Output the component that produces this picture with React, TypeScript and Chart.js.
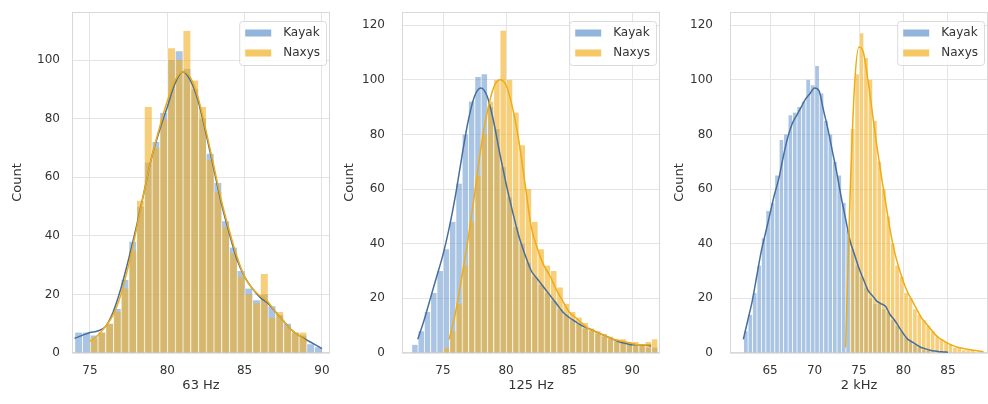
import React, { useEffect, useRef } from "react";
import { Chart, registerables } from "chart.js";

Chart.register(...registerables);

// ---------------------------------------------------------------------------
// Data
// ---------------------------------------------------------------------------
const seriesNames = ["Kayak", "Naxys"];
const yAxisTitle = "Count";

// 63 Hz — histogram bin centres (0.5 Hz bins) and counts
const bins63 = [
  74.25, 74.75, 75.25, 75.75, 76.25, 76.75, 77.25, 77.75, 78.25, 78.75, 79.25,
  79.75, 80.25, 80.75, 81.25, 81.75, 82.25, 82.75, 83.25, 83.75, 84.25, 84.75,
  85.25, 85.75, 86.25, 86.75, 87.25, 87.75, 88.25, 88.75, 89.25, 89.75,
];
const kayak63 = [
  7, 7, 6, 7, 10, 15, 25, 38, 50, 65, 72, 82, 100, 103, 97, 90, 80, 68, 58, 45,
  36, 28, 22, 18, 20, 16, 13, 10, 7, 6, 3, 2,
];
const naxys63 = [
  0, 0, 5, 7, 10, 14, 22, 35, 52, 84, 70, 80, 104, 100, 110, 93, 84, 66, 55, 43,
  34, 26, 20, 17, 27, 12, 14, 9, 7, 7, 0, 0,
];
// 63 Hz — density curves (scaled to counts)
const kdeX63 = [
  74, 74.5, 75, 75.5, 76, 76.5, 77, 77.5, 78, 78.5, 79, 79.5, 80, 80.5, 81,
  81.5, 82, 82.5, 83, 83.5, 84, 84.5, 85, 85.5, 86, 86.5, 87, 87.5, 88, 88.5,
  89, 89.5, 90,
];
const kayakKde63 = [
  5, 6, 7, 7.5, 9, 14, 22, 32, 43, 55, 67, 76, 84, 92, 96, 93, 86, 75, 63, 51,
  41, 32, 26, 22, 19, 17, 14, 11, 8, 6, 4.5, 3, 1.5,
];
const naxysKde63 = [
  null, null, 4, 6, 9, 13, 20, 30, 42, 55, 67, 77, 86, 93, 96, 94, 87, 76, 64,
  52, 42, 33, 26, 22, 19.5, 17.5, 14, 11, 8, 6, 4, null, null,
];

// 125 Hz
const bins125 = [
  72.75, 73.25, 73.75, 74.25, 74.75, 75.25, 75.75, 76.25, 76.75, 77.25, 77.75,
  78.25, 78.75, 79.25, 79.75, 80.25, 80.75, 81.25, 81.75, 82.25, 82.75, 83.25,
  83.75, 84.25, 84.75, 85.25, 85.75, 86.25, 86.75, 87.25, 87.75, 88.25, 88.75,
  89.25, 89.75, 90.25, 90.75, 91.25, 91.75,
];
const kayak125 = [
  3, 8, 15, 22, 30, 38, 48, 62, 80, 92, 101, 102, 90, 82, 68, 57, 46, 40, 33,
  28, 25, 22, 19, 16, 14, 12, 11, 9, 8, 7, 6, 5, 4, 4, 3, 3, 3, 2, 2,
];
const naxys125 = [
  0, 0, 0, 0, 0, 2, 8, 18, 32, 48, 65, 80, 92, 100, 118, 100, 88, 76, 60, 48,
  38, 32, 30, 24, 18, 15, 13, 11, 9, 8, 7, 6, 5, 5, 4, 4, 3, 4, 5,
];
const kdeX125 = [
  73, 73.5, 74, 74.5, 75, 75.5, 76, 76.5, 77, 77.5, 78, 78.5, 79, 79.5, 80,
  80.5, 81, 81.5, 82, 82.5, 83, 83.5, 84, 84.5, 85, 85.5, 86, 86.5, 87, 87.5,
  88, 88.5, 89, 89.5, 90, 90.5, 91, 91.5,
];
const kayakKde125 = [
  5, 12, 20, 28, 36, 46, 58, 72, 85, 94, 97, 94, 85, 73, 62, 52, 43, 36, 30,
  27, 24, 21, 18, 15, 13, 11.5, 10, 9, 8, 7, 6, 5, 4, 3.5, 3, 3, 3, 2.5,
];
const naxysKde125 = [
  null, null, null, null, null, 5, 15, 28, 42, 58, 75, 88, 97, 100, 98, 90, 78,
  62, 46, 38, 32, 28, 23, 19, 15, 13, 11, 9, 8, 7, 6, 5, 4.5, 4, 3.5, 3, 3, 3,
];

// 2 kHz
const bins2k = [
  62.25, 62.75, 63.25, 63.75, 64.25, 64.75, 65.25, 65.75, 66.25, 66.75, 67.25,
  67.75, 68.25, 68.75, 69.25, 69.75, 70.25, 70.75, 71.25, 71.75, 72.25, 72.75,
  73.25, 73.75, 74.25, 74.75, 75.25, 75.75, 76.25, 76.75, 77.25, 77.75, 78.25,
  78.75, 79.25, 79.75, 80.25, 80.75, 81.25, 81.75, 82.25, 82.75, 83.25, 83.75,
  84.25, 84.75, 85.25, 85.75, 86.25, 86.75, 87.25, 87.75, 88.25,
];
const kayak2k = [
  8, 14, 22, 32, 42, 52, 55, 65, 78, 80, 87, 88, 90, 92, 100, 98, 105, 95, 85,
  80, 70, 65, 55, 45, 38, 32, 28, 24, 20, 18, 18, 16, 15, 12, 10, 8, 6, 4, 3, 2,
  1, 1, 0, 0, 0, 0, 0, 0, 0, 0, 0, 0, 0,
];
const naxys2k = [
  0, 0, 0, 0, 0, 0, 0, 0, 0, 0, 0, 0, 0, 0, 0, 0, 0, 0, 0, 0, 0, 0, 0, 0, 82,
  102, 117, 108, 100, 85, 70, 60, 50, 40, 32, 28, 22, 20, 16, 14, 12, 10, 8, 6,
  5, 4, 3, 2, 2, 1, 1, 1, 0,
];
const kdeX2k = [
  62, 62.5, 63, 63.5, 64, 64.5, 65, 65.5, 66, 66.5, 67, 67.5, 68, 68.5, 69,
  69.5, 70, 70.5, 71, 71.5, 72, 72.5, 73, 73.5, 74, 74.5, 75, 75.5, 76, 76.5,
  77, 77.5, 78, 78.5, 79, 79.5, 80, 80.5, 81, 81.5, 82, 82.5, 83, 83.5, 84,
  84.5, 85, 85.5, 86, 86.5, 87, 87.5, 88, 88.5, 89,
];
const kayakKde2k = [
  5, 12, 19, 28, 37, 44, 51, 58, 64, 72, 79, 84, 87, 90, 93, 95, 97, 96, 89, 82,
  74, 66, 57, 49, 41, 36, 31, 27, 23, 21, 19, 18, 17, 14, 12, 9.5, 7, 5, 4, 3,
  2, 1.5, 1, 0.7, 0.5, 0.4, 0.3, null, null, null, null, null, null, null, null,
];
const naxysKde2k = [
  null, null, null, null, null, null, null, null, null, null, null, null, null,
  null, null, null, null, null, null, null, null, null, null, 2, 58, 98, 112,
  110, 100, 88, 76, 65, 55, 45, 37, 31, 26, 22, 19, 16, 13, 11, 9, 7, 5.5, 4.5,
  3.5, 2.8, 2.2, 1.8, 1.5, 1.2, 1, 0.7, 0.5,
];

const xTicks63 = [75, 80, 85, 90];
const xTicks125 = [75, 80, 85, 90];
const xTicks2k = [65, 70, 75, 80, 85];
const yTicks63 = [0, 20, 40, 60, 80, 100];
const yTicks125 = [0, 20, 40, 60, 80, 100, 120];
const yTicks2k = [0, 20, 40, 60, 80, 100, 120];

// ---------------------------------------------------------------------------
// Styling
// ---------------------------------------------------------------------------
const FONT = '"DejaVu Sans", "Liberation Sans", sans-serif';
const TEXT = "#333333";
const GRID = "#e4e4e4";
const FRAME = "#d8d8d8";
const kayakFill = "rgba(100,150,205,0.55)";
const naxysFill = "rgba(242,175,35,0.6)";
const kayakLine = "rgb(70,110,160)";
const naxysLine = "rgb(240,172,20)";

Chart.defaults.font.family = FONT;
Chart.defaults.color = TEXT;

type Panel = {
  title: string;
  left: number;
  width: number;
  padRight: number;
  yWidth: number;
  yTickPad: number;
  xMin: number;
  xMax: number;
  yMax: number;
  xTicks: number[];
  yTicks: number[];
  bins: number[];
  kayak: number[];
  naxys: number[];
  kdeX: number[];
  kayakKde: (number | null)[];
  naxysKde: (number | null)[];
};

const panels: Panel[] = [
  {
    title: "63 Hz",
    left: 0,
    width: 332,
    padRight: 2,
    yWidth: 62,
    yTickPad: 12,
    xMin: 73.84,
    xMax: 90.52,
    yMax: 116.4,
    xTicks: xTicks63,
    yTicks: yTicks63,
    bins: bins63,
    kayak: kayak63,
    naxys: naxys63,
    kdeX: kdeX63,
    kayakKde: kayakKde63,
    naxysKde: naxysKde63,
  },
  {
    title: "125 Hz",
    left: 332,
    width: 330,
    padRight: 2,
    yWidth: 60,
    yTickPad: 17,
    xMin: 71.75,
    xMax: 92.2,
    yMax: 124.8,
    xTicks: xTicks125,
    yTicks: yTicks125,
    bins: bins125,
    kayak: kayak125,
    naxys: naxys125,
    kdeX: kdeX125,
    kayakKde: kayakKde125,
    naxysKde: naxysKde125,
  },
  {
    title: "2 kHz",
    left: 662,
    width: 326,
    padRight: 0,
    yWidth: 58,
    yTickPad: 17,
    xMin: 60.5,
    xMax: 89.5,
    yMax: 124.8,
    xTicks: xTicks2k,
    yTicks: yTicks2k,
    bins: bins2k,
    kayak: kayak2k,
    naxys: naxys2k,
    kdeX: kdeX2k,
    kayakKde: kayakKde2k,
    naxysKde: naxysKde2k,
  },
];

// Light frame around the plotting area (all four spines)
const frame = {
  id: "frame",
  beforeDatasetsDraw(chart: any) {
    const { ctx, chartArea: a } = chart;
    ctx.save();
    ctx.strokeStyle = FRAME;
    ctx.lineWidth = 1;
    ctx.strokeRect(a.left + 0.5, a.top + 0.5, a.right - a.left - 1, a.bottom - a.top - 1);
    ctx.restore();
  },
};

// Legend drawn inside the upper-right corner of the plotting area
const insideLegend = {
  id: "insideLegend",
  afterDatasetsDraw(chart: any) {
    const { ctx, chartArea: a } = chart;
    const items = chart.data.datasets.filter((d: any) => d.type === "bar");
    ctx.save();
    ctx.font = `12px ${FONT}`;
    const textW = Math.max(...items.map((d: any) => ctx.measureText(d.label).width));
    const patchW = 26;
    const patchH = 7;
    const gap = 12;
    const pad = 6;
    const rowH = 20;
    const w = pad + patchW + gap + textW + pad;
    const h = rowH * items.length + 4;
    const x0 = a.right - 4 - w;
    const y0 = a.top + 9;
    ctx.fillStyle = "rgba(255,255,255,0.8)";
    ctx.strokeStyle = "rgba(215,215,215,0.9)";
    ctx.lineWidth = 1;
    ctx.beginPath();
    ctx.roundRect(x0 + 0.5, y0 + 0.5, w, h, 3);
    ctx.fill();
    ctx.stroke();
    items.forEach((d: any, i: number) => {
      const cy = y0 + 12 + rowH * i;
      ctx.fillStyle = d.legendColor;
      ctx.fillRect(x0 + pad, cy - patchH / 2, patchW, patchH);
      ctx.fillStyle = TEXT;
      ctx.textBaseline = "middle";
      ctx.textAlign = "left";
      ctx.fillText(d.label, x0 + pad + patchW + gap, cy);
    });
    ctx.restore();
  },
};

// Keep the plotting area exactly where the layout padding puts it
const noEdgePadding = (s: any) => {
  s.paddingLeft = 0;
  s.paddingRight = 0;
  s.paddingTop = 0;
  s.paddingBottom = 0;
};

function HistPanel({ p }: { p: Panel }) {
  const ref = useRef<HTMLCanvasElement>(null);

  useEffect(() => {
    if (!ref.current) return;
    const bars = (counts: number[]) => p.bins.map((x, i) => ({ x, y: counts[i] }));
    const curve = (vals: (number | null)[]) => p.kdeX.map((x, i) => ({ x, y: vals[i] }));

    const chart = new Chart(ref.current, {
      type: "bar",
      data: {
        datasets: [
          {
            type: "bar",
            label: seriesNames[0],
            data: bars(p.kayak),
            backgroundColor: kayakFill,
            borderColor: "rgba(255,255,255,0.45)",
            borderWidth: { left: 1, right: 0, top: 0, bottom: 0 },
            barPercentage: 1,
            categoryPercentage: 1,
            grouped: false,
            order: 4,
            legendColor: "rgba(100,150,205,0.7)",
          } as any,
          {
            type: "bar",
            label: seriesNames[1],
            data: bars(p.naxys),
            backgroundColor: naxysFill,
            borderColor: "rgba(255,255,255,0.45)",
            borderWidth: { left: 1, right: 0, top: 0, bottom: 0 },
            barPercentage: 1,
            categoryPercentage: 1,
            grouped: false,
            order: 3,
            legendColor: "rgba(242,175,35,0.7)",
          } as any,
          {
            type: "line",
            label: seriesNames[0] + " KDE",
            data: curve(p.kayakKde),
            borderColor: kayakLine,
            borderWidth: 1.5,
            pointRadius: 0,
            cubicInterpolationMode: "monotone",
            spanGaps: false,
            fill: false,
            order: 2,
          } as any,
          {
            type: "line",
            label: seriesNames[1] + " KDE",
            data: curve(p.naxysKde),
            borderColor: naxysLine,
            borderWidth: 1.5,
            pointRadius: 0,
            cubicInterpolationMode: "monotone",
            spanGaps: false,
            fill: false,
            order: 1,
          } as any,
        ],
      },
      options: {
        animation: false,
        responsive: false,
        maintainAspectRatio: false,
        events: [],
        layout: { padding: { left: 10, right: p.padRight, top: 12, bottom: 11 } },
        plugins: {
          legend: { display: false },
          tooltip: { enabled: false },
        },
        scales: {
          x: {
            type: "linear",
            min: p.xMin,
            max: p.xMax,
            offset: false,
            bounds: "data",
            grid: { color: GRID, lineWidth: 1, drawTicks: false, offset: false },
            border: { display: false },
            ticks: {
              color: TEXT,
              font: { size: 12 },
              padding: 11,
              autoSkip: false,
              maxRotation: 0,
              callback: (v: any) => String(v),
            },
            afterBuildTicks: (s: any) => {
              s.ticks = p.xTicks.map((v) => ({ value: v }));
            },
            afterFit: (s: any) => {
              s.height = 40;
              noEdgePadding(s);
            },
            title: { display: true, text: p.title, color: TEXT, font: { size: 13 }, padding: 0 },
          },
          y: {
            type: "linear",
            min: 0,
            max: p.yMax,
            bounds: "data",
            grid: { color: GRID, lineWidth: 1, drawTicks: false },
            border: { display: false },
            ticks: {
              color: TEXT,
              font: { size: 12 },
              padding: p.yTickPad,
              autoSkip: false,
              callback: (v: any) => String(v),
            },
            afterBuildTicks: (s: any) => {
              s.ticks = p.yTicks.map((v) => ({ value: v }));
            },
            afterFit: (s: any) => {
              s.width = p.yWidth;
              noEdgePadding(s);
            },
            title: { display: true, text: yAxisTitle, color: TEXT, font: { size: 13 }, padding: 0 },
          },
        },
      } as any,
      plugins: [frame, insideLegend],
    });
    return () => chart.destroy();
  }, [p]);

  return (
    <canvas
      ref={ref}
      width={p.width}
      height={404}
      style={{ position: "absolute", left: p.left, top: 0, width: p.width, height: 404 }}
    />
  );
}

export default function App() {
  return (
    <div
      style={{
        position: "fixed",
        left: 0,
        top: 0,
        width: 988,
        height: 404,
        background: "#ffffff",
        overflow: "hidden",
      }}
    >
      {panels.map((p) => (
        <HistPanel key={p.title} p={p} />
      ))}
    </div>
  );
}
